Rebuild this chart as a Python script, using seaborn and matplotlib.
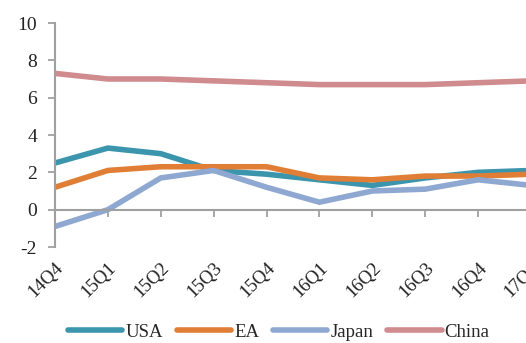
import matplotlib
matplotlib.use("Agg")
import matplotlib.pyplot as plt
import seaborn as sns
import pandas as pd

quarters = ["14Q4", "15Q1", "15Q2", "15Q3", "15Q4", "16Q1", "16Q2", "16Q3", "16Q4", "17Q1"]
usa = [2.5, 3.3, 3.0, 2.1, 1.9, 1.6, 1.3, 1.7, 2.0, 2.1]
ea = [1.2, 2.1, 2.3, 2.3, 2.3, 1.7, 1.6, 1.8, 1.8, 1.9]
japan = [-0.9, 0.0, 1.7, 2.1, 1.2, 0.4, 1.0, 1.1, 1.6, 1.3]
china = [7.3, 7.0, 7.0, 6.9, 6.8, 6.7, 6.7, 6.7, 6.8, 6.9]

series = {"USA": usa, "EA": ea, "Japan": japan, "China": china}
colors = {"USA": "#3a95ad", "EA": "#e07e35", "Japan": "#8ea8d2", "China": "#d08b8e"}

df = pd.DataFrame(
    [(i, name, v) for name, vals in series.items() for i, v in enumerate(vals)],
    columns=["idx", "region", "value"],
)

sns.set_theme(style="white")
plt.rcParams["font.family"] = ["Liberation Serif", "DejaVu Serif"]
plt.rcParams["axes.unicode_minus"] = False

fig = plt.figure(figsize=(5.26, 3.43), dpi=100)
ax = fig.add_axes([55 / 526, 1 - 247 / 343, (531 - 55) / 526, (247 - 23) / 343])

sns.lineplot(data=df, x="idx", y="value", hue="region", palette=colors,
             linewidth=4.0, ax=ax, legend=False, sort=False)
for line in ax.get_lines():
    line.set_solid_capstyle("butt")
    line.set_solid_joinstyle("miter")

ax.set_xlim(0, 9)
ax.set_ylim(-2, 10)
ax.set_yticks(range(-2, 11, 2))
ax.set_xticks(range(len(quarters)))
ax.set_xlabel("")
ax.set_ylabel("")

for s in ["top", "right"]:
    ax.spines[s].set_visible(False)
ax.spines["bottom"].set_position(("data", 0))
for s in ["left", "bottom"]:
    ax.spines[s].set_color("#a0a0a0")
    ax.spines[s].set_linewidth(1.5)

ax.tick_params(axis="y", direction="out", length=5, width=1.3, color="#a0a0a0",
               labelsize=14, pad=8, left=True, labelcolor="#222222")
ax.tick_params(axis="x", direction="out", length=5, width=1.3, color="#a0a0a0",
               labelsize=13.5, pad=31, bottom=True, labelcolor="#222222")
ax.set_xticklabels(quarters)
for lbl in ax.get_xticklabels():
    lbl.set_rotation(45)
    lbl.set_ha("right")
    lbl.set_rotation_mode("anchor")

handles = [plt.Line2D([], [], color=colors[k], linewidth=4.0, solid_capstyle="round")
           for k in series]
fig.legend(handles, list(series.keys()), loc="center", bbox_to_anchor=(0.53, 0.032),
           ncol=4, frameon=False, fontsize=13.5, handlelength=2.9,
           handletextpad=0.15, columnspacing=0.75)

fig.savefig("out.png", dpi=100)
